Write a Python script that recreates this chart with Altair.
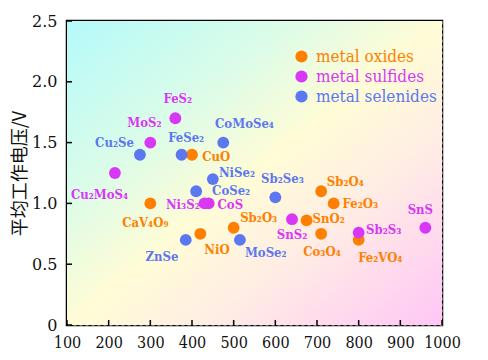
import altair as alt
import pandas as pd

# ---- data ----
names = ["CuO", "CaV₄O₉", "NiO", "Sb₂O₃", "Sb₂O₄", "Fe₂O₃", "SnO₂", "Co₃O₄", "Fe₂VO₄",
         "FeS₂", "MoS₂", "Cu₂MoS₄", "Ni₃S₂", "CoS", "SnS₂", "Sb₂S₃", "SnS",
         "Cu₂Se", "FeSe₂", "CoMoSe₄", "NiSe₂", "CoSe₂", "ZnSe", "MoSe₂", "Sb₂Se₃"]
groups = (["metal oxides"] * 9 + ["metal sulfides"] * 8 + ["metal selenides"] * 8)
capacity = [400, 300, 420, 500, 710, 740, 675, 710, 800,
            360, 300, 215, 430, 440, 640, 800, 960,
            275, 375, 475, 450, 410, 385, 515, 600]
voltage = [1.40, 1.00, 0.75, 0.80, 1.10, 1.00, 0.86, 0.75, 0.70,
           1.70, 1.50, 1.25, 1.00, 1.00, 0.87, 0.76, 0.80,
           1.40, 1.40, 1.50, 1.20, 1.10, 0.70, 0.70, 1.05]
label_x = [458, 288, 460, 560, 768, 804, 728, 712, 852,
           366, 286, 178, 378, 492, 640, 860, 948,
           214, 386, 526, 508, 494, 328, 577, 617]
label_y = [1.384, 0.836, 0.617, 0.877, 1.173, 0.995, 0.872, 0.603, 0.548,
           1.856, 1.66, 1.07, 0.987, 0.99, 0.74, 0.78, 0.946,
           1.50, 1.535, 1.653, 1.247, 1.105, 0.562, 0.59, 1.198]

series = ["metal oxides", "metal sulfides", "metal selenides"]
series_colors = ["#ff8000", "#d838f5", "#5c78f0"]

x_grid = [100, 150, 200, 250, 300, 350, 400, 450, 500, 550, 600, 650, 700, 750, 800, 850, 900, 950, 1000]
y_grid = [0, 0.25, 0.5, 0.75, 1.0, 1.25, 1.5, 1.75, 2.0, 2.25, 2.5]
x_ticks = [100, 200, 300, 400, 500, 600, 700, 800, 900, 1000]
y_ticks = [0, 0.5, 1.0, 1.5, 2.0, 2.5]

W, H = 375, 304

df = pd.DataFrame({"name": names, "group": groups, "x": capacity, "y": voltage,
                   "lx": label_x, "ly": label_y})

color_scale = alt.Scale(domain=series, range=series_colors)
xs = alt.Scale(domain=[100, 1000], nice=False, zero=False)
ys = alt.Scale(domain=[0, 2.5], nice=False)

label_color_expr = ("datum.label == 'metal oxides' ? '#ff8000' : "
                    "datum.label == 'metal sulfides' ? '#d838f5' : '#5c78f0'")

bg = alt.Chart(pd.DataFrame({"a": [0]})).mark_rect(
    color=alt.Gradient(
        gradient="linear", x1=0, y1=0, x2=1, y2=1,
        stops=[alt.GradientStop(color="#b4fafa", offset=0),
               alt.GradientStop(color="#dcfce8", offset=0.3),
               alt.GradientStop(color="#fffcd6", offset=0.5),
               alt.GradientStop(color="#ffeee4", offset=0.68),
               alt.GradientStop(color="#ffc6f6", offset=1)])
).encode(x=alt.value(0), x2=alt.value(W), y=alt.value(0), y2=alt.value(H))

base = alt.Chart(df)

points = base.mark_circle(size=140, opacity=1).encode(
    x=alt.X("x:Q", scale=xs, title=None,
            axis=alt.Axis(values=x_grid, grid=True, ticks=False, labelOverlap=False, format="d",
                          labelFlush=False,
                          labelExpr="datum.value % 100 == 0 ? datum.label : ''",
                          labelFont="DejaVu Serif Condensed", labelFontSize=16,
                          labelColor="#111", labelPadding=9, domain=False,
                          gridDash=[3, 3], gridColor="#8a8a8a", gridWidth=1, gridOpacity=0.8)),
    y=alt.Y("y:Q", scale=ys,
            title="平均工作电压/V",
            axis=alt.Axis(values=y_grid, grid=True, ticks=False, labelOverlap=False,
                          labelFlush=False,
                          labelExpr="datum.value % 0.5 == 0 ? (datum.value == 0 ? '0' : format(datum.value, '.1f')) : ''",
                          labelFont="DejaVu Serif", labelFontSize=16,
                          labelColor="#111", labelPadding=10, domain=False,
                          titleFont="Noto Sans CJK SC", titleFontSize=18,
                          titleFontWeight="normal", titleColor="#111", titlePadding=2,
                          gridDash=[3, 3], gridColor="#8a8a8a", gridWidth=1, gridOpacity=0.8)),
    color=alt.Color("group:N", scale=color_scale,
                    legend=alt.Legend(orient="none", legendX=226, legendY=27, title=None,
                                      symbolType="circle", symbolSize=150,
                                      symbolOpacity=1, symbolStrokeWidth=0,
                                      labelFont="DejaVu Serif Condensed", labelFontSize=17,
                                      labelColor={"expr": label_color_expr},
                                      rowPadding=2, labelOffset=6, padding=0)),
)

labels = base.mark_text(font="DejaVu Serif Condensed", fontWeight="bold", fontSize=13,
                        align="center", baseline="middle").encode(
    x=alt.X("lx:Q", scale=xs),
    y=alt.Y("ly:Q", scale=ys),
    text="name:N",
    color=alt.Color("group:N", scale=color_scale, legend=None),
)

xt = alt.Chart(pd.DataFrame({"t": x_ticks})).mark_rule(color="#000", strokeWidth=1.5).encode(
    x=alt.X("t:Q", scale=xs), y=alt.value(H), y2=alt.value(H - 5))
yt = alt.Chart(pd.DataFrame({"t": y_ticks})).mark_rule(color="#000", strokeWidth=1.5).encode(
    y=alt.Y("t:Q", scale=ys), x=alt.value(0), x2=alt.value(5))

chart = alt.layer(bg, points, labels, xt, yt).properties(
    width=W, height=H,
    autosize=alt.AutoSizeParams(type="none"),
    padding={"left": 59, "top": 13, "right": 38, "bottom": 27},
    background="white",
).configure_view(stroke="#000", strokeWidth=2.5)

chart.save("out.html", embed_options={"renderer": "svg", "actions": False})
